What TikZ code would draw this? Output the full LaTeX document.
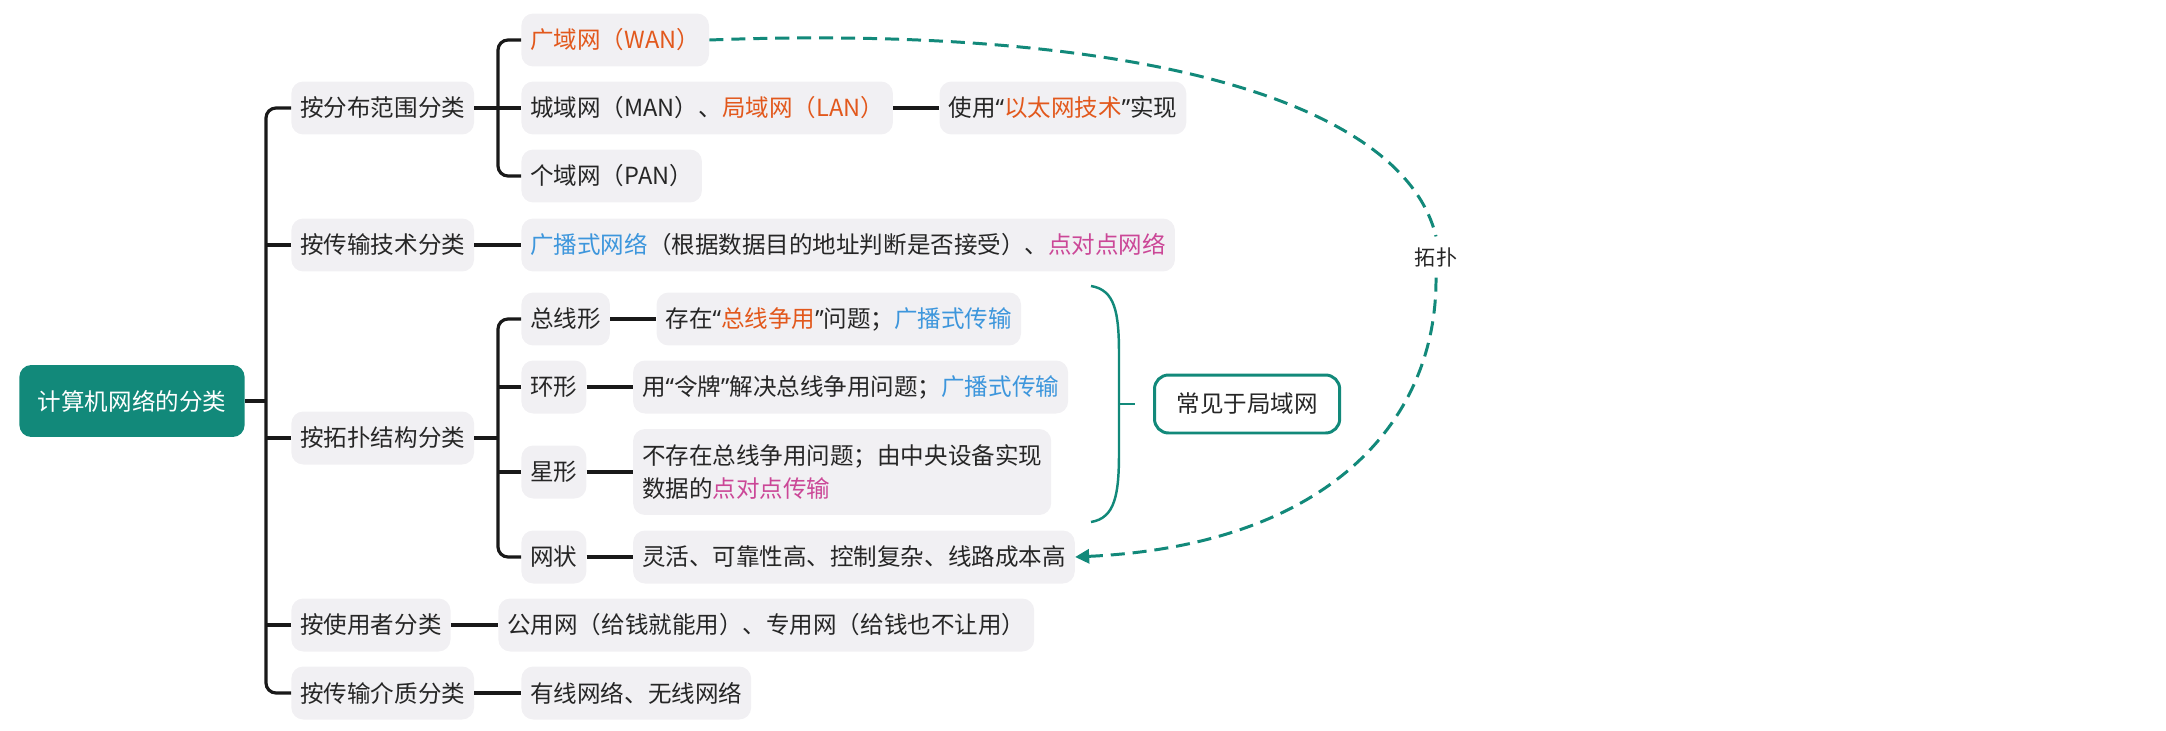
\documentclass[tikz,border=0pt]{standalone}
\usepackage{fontspec}
\setmainfont{Noto Sans CJK SC}
\newfontfamily\quotefont{Noto Sans}
\newcommand{\qopen}{{\quotefont “}}
\newcommand{\qclose}{{\quotefont ”}}
\usepackage{xcolor}
\usepackage{tikz}
\usetikzlibrary{positioning,arrows.meta}
\definecolor{mapTeal}{HTML}{12897A}
\definecolor{topicGray}{HTML}{F1F0F3}
\definecolor{keyOrange}{HTML}{E2581C}
\definecolor{bcastBlue}{HTML}{3D96DC}
\definecolor{ptpPink}{HTML}{CB4797}

\begin{document}
\begin{tikzpicture}[x=0.02cm, y=-0.02cm,
  every node/.style={font=\fontsize{13.4}{19.3}\selectfont, text=black!85},
  topic/.style={fill=topicGray, rounded corners=6.8pt, minimum height=1.06cm, inner xsep=5.1pt, inner ysep=0pt},
  rootbox/.style={fill=mapTeal, text=white, rounded corners=6.8pt, minimum height=1.44cm, inner xsep=10.5pt},
  lannote/.style={draw=mapTeal, line width=1.7pt, fill=white, rounded corners=8pt, minimum height=1.16cm, inner xsep=12.5pt},
  twig/.style={line width=1.8pt, black!90, rounded corners=5.7pt},
  lanbrace/.style={line width=1.4pt, mapTeal},
  topolink/.style={mapTeal, line width=1.7pt, dash pattern=on 8pt off 4.5pt}]
  \useasboundingbox (0,0) rectangle (2166,730);

  % Root
  \node[rootbox] (root) at (132,401) {计算机网络的分类};
  \coordinate (trunk) at (266,401);

  % Level 1
  \node[topic, anchor=west] (scope) at (291,108) {按分布范围分类};
  \node[topic, anchor=west] (tech) at (291,245) {按传输技术分类};
  \node[topic, anchor=west] (topo) at (291,438) {按拓扑结构分类};
  \node[topic, anchor=west] (user) at (291,625) {按使用者分类};
  \node[topic, anchor=west] (media) at (291,693) {按传输介质分类};

  % By scope
  \node[topic, anchor=west] (wan) at (521,40) {\textcolor{keyOrange}{广域网（WAN）}};
  \node[topic, anchor=west] (man) at (521,108) {城域网（MAN）、\textcolor{keyOrange}{局域网（LAN）}};
  \node[topic, right=0.92cm of man] (ether) {使用\qopen\textcolor{keyOrange}{以太网技术}\qclose 实现};
  \node[topic, anchor=west] (pan) at (521,176) {个域网（PAN）};

  % By technology
  \node[topic, anchor=west] (bcast) at (521,245) {\textcolor{bcastBlue}{广播式网络}（根据数据目的地址判断是否接受）、\textcolor{ptpPink}{点对点网络}};

  % By topology
  \node[topic, anchor=west] (bus) at (521,319) {总线形};
  \node[topic, right=0.92cm of bus] (busnote) {存在\qopen\textcolor{keyOrange}{总线争用}\qclose 问题；\textcolor{bcastBlue}{广播式传输}};
  \node[topic, anchor=west] (ring) at (521,387) {环形};
  \node[topic, right=0.92cm of ring] (ringnote) {用\qopen 令牌\qclose 解决总线争用问题；\textcolor{bcastBlue}{广播式传输}};
  \node[topic, anchor=west] (star) at (521,472) {星形};
  \node[topic, right=0.92cm of star, align=left, minimum height=1.72cm] (starnote) {不存在总线争用问题；由中央设备实现\\数据的\textcolor{ptpPink}{点对点传输}};
  \node[topic, anchor=west] (mesh) at (521,557) {网状};
  \node[topic, right=0.92cm of mesh] (meshnote) {灵活、可靠性高、控制复杂、线路成本高};

  % By user / medium
  \node[topic, anchor=west] (pubpriv) at (498,625) {公用网（给钱就能用）、专用网（给钱也不让用）};
  \node[topic, anchor=west] (wire) at (521,693) {有线网络、无线网络};

  % Tree lines
  \draw[twig] (root.east) -- (trunk);
  \draw[twig] (scope.west) -- ++(-25,0) |- (media.west);
  \foreach \n in {tech,topo,user} \draw[twig] (\n.west) -- ++(-25,0);
  \draw[twig] (scope.east) -- (man.west);
  \draw[twig] (wan.west) -- ++(-23,0) |- (pan.west);
  \draw[twig] (man.east) -- (ether.west);
  \draw[twig] (tech.east) -- (bcast.west);
  \draw[twig] (topo.east) -- ++(23,0);
  \draw[twig] (bus.west) -- ++(-23,0) |- (mesh.west);
  \foreach \n in {ring,star} \draw[twig] (\n.west) -- ++(-23,0);
  \foreach \a/\b in {bus/busnote,ring/ringnote,star/starnote,mesh/meshnote}
    \draw[twig] (\a.east) -- (\b.west);
  \draw[twig] (user.east) -- (pubpriv.west);
  \draw[twig] (media.east) -- (wire.west);

  % Brace: common in LANs
  \draw[lanbrace] (1091,286) .. controls (1115,290) and (1119,312) .. (1119,355)
    -- (1119,452) .. controls (1119,495) and (1115,518) .. (1091,522);
  \coordinate (bracemid) at (1119,404);
  \coordinate (bracetip) at (1135,404);
  \draw[lanbrace] (bracemid) -- (bracetip);
  \node[lannote, anchor=west] (lan) at (1153,404) {常见于局域网};

  % Topology link
  \node[font=\fontsize{12}{14}\selectfont, inner sep=6pt] (topolabel) at (1436,257) {拓扑};
  \draw[topolink] (wan.east) .. controls (1100,25) and (1400,90) .. (topolabel.north);
  \draw[topolink, -{Triangle[length=8pt,width=8pt]}] (topolabel.south)
    .. controls (1437,420) and (1330,545) .. (meshnote.east);
\end{tikzpicture}
\end{document}
